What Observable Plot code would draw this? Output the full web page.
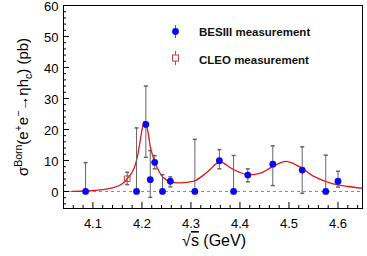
<!DOCTYPE html>
<html><head><meta charset="utf-8">
<script src="https://cdn.jsdelivr.net/npm/d3@7"></script>
<script src="https://cdn.jsdelivr.net/npm/@observablehq/plot@0.6"></script>
<style>
body{margin:0;background:#fff;font-family:"Liberation Sans",Arial,sans-serif}
#chart svg{display:block}
</style>
</head><body><div id="chart"></div>
<script>
// BESIII measurement (sqrt(s) in GeV, sigma in pb)
const besEnergy = [4.085, 4.189, 4.208, 4.217, 4.226, 4.242, 4.258, 4.308, 4.358, 4.387, 4.416, 4.467, 4.527, 4.575, 4.600];
const besValue  = [0.0,   0.0,   21.6,  3.8,   9.4,   0.0,   3.3,   0.0,   9.9,   0.0,   5.3,   8.8,   6.9,   0.0,   3.3];
const besHigh   = [9.3,   20.5,  34.0,  13.2,  11.6,  5.4,   4.7,   16.8,  13.5,  11.6,  7.3,   14.7,  14.4,  11.7,  6.5];
const besLow    = [0.0,   0.0,   11.0,  -1.9,  7.3,   0.0,   1.5,   0.0,   7.3,   0.0,   3.1,   1.9,   -0.6,  0.0,   1.4];
// CLEO measurement
const cleoEnergy = [4.170];
const cleoValue  = [4.1];
const cleoHigh   = [6.2];
const cleoLow    = [2.2];
// fit curve
const fitEnergy = [4.058, 4.0875, 4.12, 4.142, 4.16, 4.169, 4.18, 4.186, 4.191, 4.196, 4.201, 4.205, 4.211, 4.218, 4.229, 4.244, 4.261, 4.278, 4.295, 4.309, 4.333, 4.359, 4.384, 4.415, 4.442, 4.462, 4.493, 4.52, 4.554, 4.588, 4.62, 4.649];
const fitValue  = [0.05,  0.15,   0.6,  1.2,   2.5,  3.9,   6.2,  8.4,   11.5,  15.9,  20.5,  22.6,  20.2,  13.8,  8.4,   4.4,   3.0,   2.8,   3.0,   3.5,   6.2,   9.5,   7.3,   5.4,   5.9,   7.6,   9.7,   8.1,  4.6,   2.5,   1.6,  1.1];
// axes
const xMajorTicks = [4.1, 4.2, 4.3, 4.4, 4.5, 4.6];
const xTickLabels = ["4.1", "4.2", "4.3", "4.4", "4.5", "4.6"];
const yMajorTicks = [0, 10, 20, 30, 40, 50, 60];
const yTickLabels = ["0", "10", "20", "30", "40", "50", "60"];
const xDomain = [4.04, 4.65];
const yDomain = [-5.5, 60];

const bes = besEnergy.map((e, i) => ({e, v: besValue[i], hi: besHigh[i], lo: besLow[i]}));
const cleo = cleoEnergy.map((e, i) => ({e, v: cleoValue[i], hi: cleoHigh[i], lo: cleoLow[i]}));
const fit = fitEnergy.map((e, i) => ({e, v: fitValue[i]}));
const xMinor = d3.range(0, 31).map(i => +(4.04 + i * 0.02).toFixed(3)).filter(t => !xMajorTicks.some(m => Math.abs(m - t) < 1e-6));
const yMinor = d3.range(-4, 61, 2).filter(t => t % 10 !== 0);

const W = 367, H = 256, mL = 63, mR = 5, mT = 5, mB = 48;
const FW = W - mL - mR, FH = H - mT - mB;

const capSym = {draw(ctx, size) { const w = 2; ctx.moveTo(-w, 0); ctx.lineTo(w, 0); }};
const barColor = "#666";

const svg = Plot.plot({
  width: W, height: H,
  marginLeft: mL, marginRight: mR, marginTop: mT, marginBottom: mB,
  style: {fontFamily: '"Liberation Sans", Arial, sans-serif', color: "#000", background: "#fff"},
  x: {domain: xDomain, label: null},
  y: {domain: yDomain, label: null},
  marks: [
    Plot.ruleY([0], {stroke: "#888", strokeDasharray: "3,3"}),
    Plot.tickX(xMajorTicks, {x: d => d, insetTop: FH - 6, stroke: "#000"}),
    Plot.tickX(xMinor, {x: d => d, insetTop: FH - 3, stroke: "#000"}),
    Plot.tickY(yMajorTicks, {y: d => d, insetRight: FW - 6, stroke: "#000"}),
    Plot.tickY(yMinor, {y: d => d, insetRight: FW - 3, stroke: "#000"}),
    Plot.axisX({ticks: xMajorTicks, tickSize: 0, tickPadding: 10, tickFormat: (d, i) => xTickLabels[i], fontSize: 13, label: null}),
    Plot.axisY({ticks: yMajorTicks, tickSize: 0, tickPadding: 5, tickFormat: (d, i) => yTickLabels[i], fontSize: 13, label: null, dy: 1.2}),
    Plot.line(fit, {x: "e", y: "v", stroke: "#e0161b", strokeWidth: 1.3, curve: "catmull-rom"}),
    Plot.ruleX(bes, {x: "e", y1: "lo", y2: "hi", stroke: barColor}),
    Plot.dot(bes, {x: "e", y: "hi", symbol: capSym, stroke: barColor, r: 2}),
    Plot.dot(bes.filter(d => d.lo !== 0 || d.v !== 0), {x: "e", y: "lo", symbol: capSym, stroke: barColor, r: 2}),
    Plot.ruleX(cleo, {x: "e", y1: "lo", y2: "hi", stroke: barColor}),
    Plot.dot(cleo, {x: "e", y: "hi", symbol: capSym, stroke: barColor, r: 2}),
    Plot.dot(cleo, {x: "e", y: "lo", symbol: capSym, stroke: barColor, r: 2}),
    Plot.dot(bes, {x: "e", y: "v", r: 3.4, fill: "#0a0af0", stroke: null}),
    Plot.dot(cleo, {x: "e", y: "v", r: 3.2, symbol: "square", fill: "none", stroke: "#d0393a", strokeWidth: 1}),
    Plot.frame({stroke: "#000"})
  ]
});
document.getElementById("chart").appendChild(svg);

const s = d3.select(svg);
// Y title
const yt = s.append("text")
  .attr("transform", "translate(28,107) rotate(-90)")
  .attr("text-anchor", "middle")
  .attr("font-size", 15)
  .attr("fill", "#000");
yt.append("tspan").text("σ");
yt.append("tspan").attr("font-size", 10.5).attr("dy", -6).text("Born");
yt.append("tspan").attr("dy", 6).text("(e");
yt.append("tspan").attr("font-size", 10.5).attr("dy", -6).text("+");
yt.append("tspan").attr("dy", 6).text("e");
yt.append("tspan").attr("font-size", 10.5).attr("dy", -6).text("−");
yt.append("tspan").attr("dy", 6).text("→ηh");
yt.append("tspan").attr("font-size", 10.5).attr("dy", 4).text("c");
yt.append("tspan").attr("dy", -4).text(") (pb)");

// X title
const xt = s.append("text")
  .attr("x", 246).attr("y", 246)
  .attr("text-anchor", "end")
  .attr("font-size", 16)
  .attr("fill", "#000");
xt.append("tspan").text("√");
xt.append("tspan").attr("text-decoration", "overline").text("s");
xt.append("tspan").text(" (GeV)");

// Legend
const lg = s.append("g").attr("font-size", 11.5).attr("font-weight", "bold").attr("fill", "#111").attr("text-anchor", "start");
lg.append("line").attr("x1", 175.5).attr("x2", 175.5).attr("y1", 25).attr("y2", 38).attr("stroke", barColor);
lg.append("circle").attr("cx", 175.5).attr("cy", 31.5).attr("r", 3.4).attr("fill", "#0a0af0");
lg.append("text").attr("x", 199).attr("y", 36).text("BESIII measurement");
lg.append("line").attr("x1", 175.5).attr("x2", 175.5).attr("y1", 51).attr("y2", 65).attr("stroke", barColor);
lg.append("rect").attr("x", 172.5).attr("y", 55).attr("width", 6).attr("height", 6).attr("fill", "#fff").attr("stroke", "#d0393a");
lg.append("text").attr("x", 199).attr("y", 63.5).text("CLEO measurement");
</script>
</body></html>
